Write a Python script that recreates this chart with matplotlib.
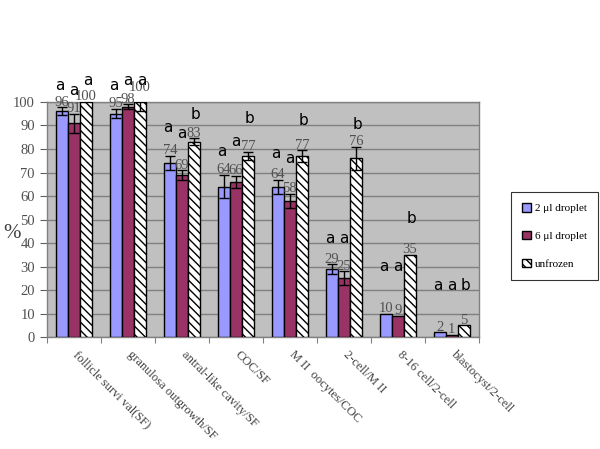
import numpy as np
import matplotlib
matplotlib.use("Agg")
import matplotlib.pyplot as plt

categories = ["follicle survi val(SF)", "granulosa outgrowth/SF",
              "antral-like cavity/SF", "COC/SF", "M II  oocytes/COC",
              "2-cell/M II", "8-16 cell/2-cell", "blastocyst/2-cell"]
series_names = ["2 \u03bcl droplet", "6 \u03bcl droplet", "unfrozen"]

drop2 = [96, 95, 74, 64, 64, 29, 10, 2]
drop6 = [91, 98, 69, 66, 58, 25, 9, 1]
unfrozen = [100, 100, 83, 77, 77, 76, 35, 5]

err2 = [1.7, 2, 3, 5, 3, 2, 0, 0]
err6 = [4, 1, 2, 2.5, 3, 3, 0, 0]
errU = [0, 4, 1.5, 1.7, 2.5, 5, 0, 0]

# significance letters for each group: (letter, height) per bar
letters = [
    [("a", 107), ("a", 105), ("a", 109)],
    [("a", 107), ("a", 109), ("a", 109)],
    [("a", 89), ("a", 86.5), ("b", 94.5)],
    [("a", 79), ("a", 83), ("b", 93)],
    [("a", 78), ("a", 76), ("b", 92)],
    [("a", 42), ("a", 42), ("b", 90.5)],
    [("a", 30), ("a", 30), ("b", 50.5)],
    [("a", 22), ("a", 22), ("b", 22)],
]

plt.rcParams["hatch.linewidth"] = 1.0
serif = ["Liberation Serif", "DejaVu Serif"]

fig = plt.figure(figsize=(6.0, 4.49), dpi=100)
ax = fig.add_axes([0.078, 0.249, 0.720, 0.524])
ax.set_facecolor("#C0C0C0")

x = np.arange(len(categories))
w = 0.222
colors = ["#9999FF", "#993366", "white"]
hatches = [None, None, "\\\\\\\\"]
vals = [drop2, drop6, unfrozen]
errs = [err2, err6, errU]

for k in range(3):
    xs = x + (k - 1) * w
    ax.bar(xs, vals[k], w, color=colors[k], edgecolor="black",
           linewidth=1.0, hatch=hatches[k], label=series_names[k], zorder=3)
    for i in range(len(x)):
        if errs[k][i] > 0:
            ax.errorbar(xs[i], vals[k][i], yerr=errs[k][i], fmt="none",
                        ecolor="black", elinewidth=1, capsize=3.5,
                        capthick=1, zorder=4)
        top = vals[k][i] + errs[k][i]
        ax.annotate(f"{vals[k][i]}", xy=(xs[i], top), xytext=(0, -1),
                    textcoords="offset points", ha="center", va="bottom",
                    fontsize=10.5, color="#505050", family=serif,
                    annotation_clip=False, zorder=5)
        let, h = letters[i][k]
        ax.text(xs[i] + (k - 1) * 0.03, h, let, ha="center", va="center",
                fontsize=11, color="black", clip_on=False, zorder=5)

ax.set_xlim(-0.5, len(categories) - 0.5)
ax.set_ylim(0, 100)
ax.set_yticks(range(0, 101, 10))
ax.grid(True, axis="y", color="#808080", linewidth=1, zorder=0)
ax.set_axisbelow(True)

ax.set_xticks(np.arange(len(categories) + 1) - 0.5)
ax.set_xticklabels([])
ax.tick_params(axis="x", direction="out", length=4, color="#808080")
ax.tick_params(axis="y", direction="out", length=5, color="#606060",
               labelsize=10.5, labelcolor="#505050")
for lab in ax.get_yticklabels():
    lab.set_family(serif)

for i, name in enumerate(categories):
    ax.text(x[i] + 0.1, -5, name, rotation=-45, rotation_mode="anchor",
            ha="left", va="top", fontsize=9, color="#404040",
            family=serif, clip_on=False)

for s in ax.spines.values():
    s.set_color("#808080")
    s.set_linewidth(1)

fig.text(12 / 600, 1 - 234 / 449, "%", fontsize=15, family=serif,
         color="#404040", ha="center", va="center")

leg = fig.legend(loc="upper left", bbox_to_anchor=(0.843, 0.585),
                 prop={"family": serif, "size": 8}, frameon=True,
                 fancybox=False, edgecolor="black", handlelength=0.8,
                 handleheight=0.8, labelspacing=1.6, borderpad=1.0,
                 handletextpad=0.3)
leg.get_frame().set_linewidth(0.8)

plt.savefig("out.png", dpi=100)
